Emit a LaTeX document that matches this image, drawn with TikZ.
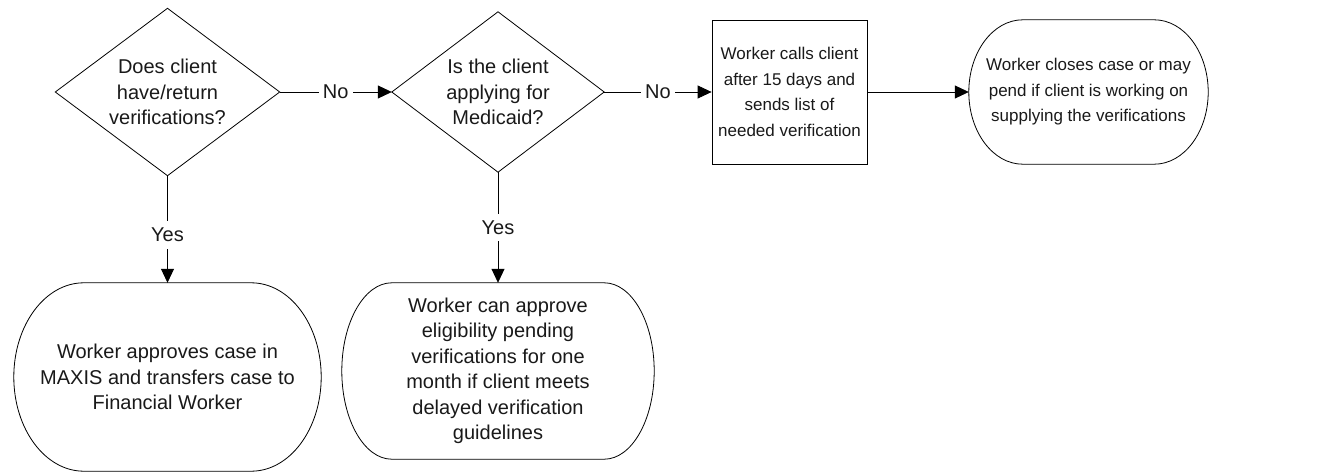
\documentclass[tikz,border=0pt]{standalone}
\usepackage{fontspec}
\setmainfont{Liberation Sans}
\usetikzlibrary{arrows.meta,calc}
\tikzset{
  big/.style={font=\fontsize{20}{25.5}\selectfont},
  small/.style={font=\fontsize{17}{25.5}\selectfont},
  base/.style={big, align=center, inner sep=0pt, text=black!90},
  decision/.style={base, rectangle, draw=none},
  process/.style={base, small, rectangle, draw, line width=0.8pt},
  term/.style={base, rectangle, draw=none},
  outline/.style={line width=0.8pt},
  conn/.style={line width=0.8pt, -{Triangle[length=14pt,width=13pt]}},
  lbl/.style={font=\fontsize{20}{22}\selectfont, fill=white, inner xsep=4pt, inner ysep=7pt, text=black!90},
}
\newcommand\stadiumpath[2]{%
  \draw[outline] ([xshift=#2]#1.north west) -- ([xshift=-#2]#1.north east)
    let \p1=(#1.north), \p2=(#1.south), \n1={abs(\y1-\y2)/2} in
    arc[start angle=90, end angle=-90, x radius=#2, y radius=\n1]
    -- ([xshift=#2]#1.south west)
    arc[start angle=270, end angle=90, x radius=#2, y radius=\n1] -- cycle;}
\newcommand\diamondpath[1]{%
  \draw[outline] (#1.north) -- (#1.east) -- (#1.south) -- (#1.west) -- cycle;}
\begin{document}
\begin{tikzpicture}[x=1pt,y=-1pt]
\useasboundingbox (0,0) rectangle (1322,473);
\node[decision, minimum width=224pt, minimum height=167pt] (d1) at (167.5,92)
  {Does client\\have/return\\verifications?};
\node[decision, minimum width=212pt, minimum height=160pt] (d2) at (498,92)
  {Is the client\\applying for\\Medicaid?};
\node[process, minimum width=155pt, minimum height=144pt] (b1) at (789.5,92)
  {Worker calls client\\after 15 days and\\sends list of\\needed verification};
\node[term, small, minimum width=239pt, minimum height=144pt] (t1) at (1088.5,92)
  {Worker closes case or may\\pend if client is working on\\supplying the verifications};
\node[term, minimum width=307pt, minimum height=188pt] (t2) at (167.5,377)
  {Worker approves case in\\MAXIS and transfers case to\\Financial Worker};
\node[term, minimum width=312pt, minimum height=176pt] (t3) at (498,371)
  {Worker can approve\\eligibility pending\\verifications for one\\month if client meets\\delayed verification\\guidelines};
\diamondpath{d1}
\diamondpath{d2}
\stadiumpath{t1}{54pt}
\stadiumpath{t2}{70pt}
\stadiumpath{t3}{50pt}
\draw[conn] (d1.east) -- node[lbl]{No} (d2.west);
\draw[conn] (d2.east) -- node[lbl]{No} (b1.west);
\draw[conn] (b1.east) -- (t1.west);
\draw[conn] (d1.south) -- node[lbl, pos=0.55]{Yes} (t2.north);
\draw[conn] (d2.south) -- node[lbl, pos=0.5]{Yes} (t3.north);
\end{tikzpicture}
\end{document}
